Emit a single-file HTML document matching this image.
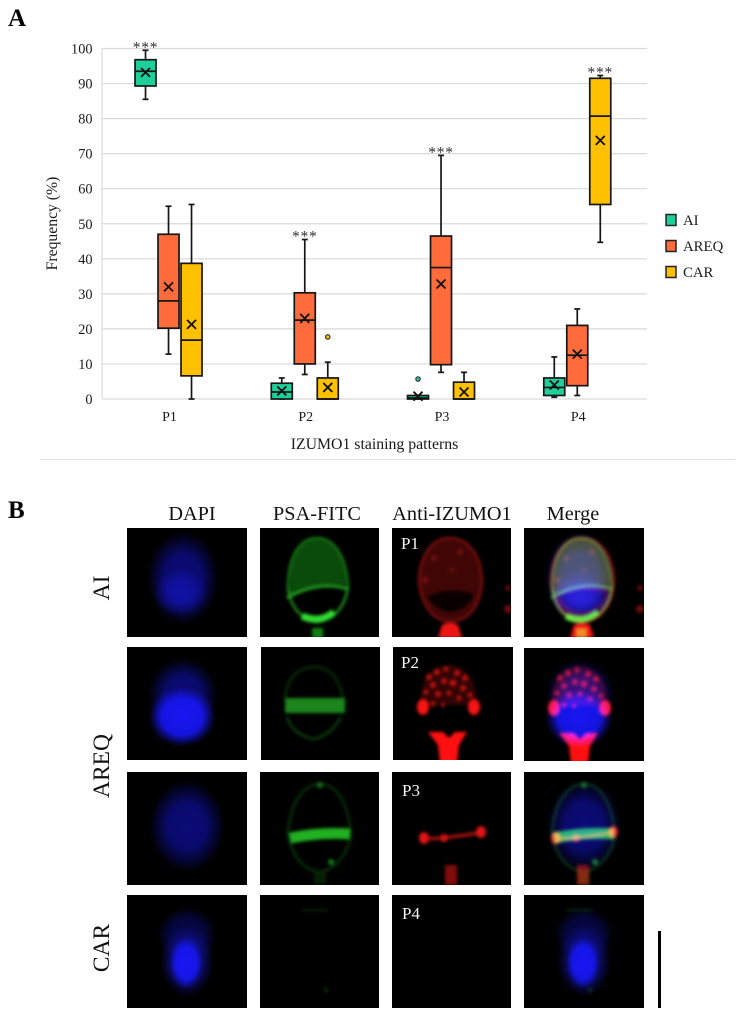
<!DOCTYPE html>
<html lang="en">
<head>
<meta charset="utf-8">
<title>IZUMO1 staining patterns</title>
<style>
html,body{margin:0;padding:0;background:#fff;}
body{width:744px;height:1020px;overflow:hidden;}
svg#fig{display:block;font-family:"Liberation Serif",serif;}
.scr{mix-blend-mode:screen;}
</style>
</head>
<body>
<svg id="fig" xmlns="http://www.w3.org/2000/svg" width="744" height="1020" viewBox="0 0 744 1020">
<defs>
<filter id="soft" filterUnits="userSpaceOnUse" x="-30" y="-30" width="180" height="180" color-interpolation-filters="sRGB"><feGaussianBlur stdDeviation="1.5"/></filter>
<filter id="softer" filterUnits="userSpaceOnUse" x="-30" y="-30" width="180" height="180" color-interpolation-filters="sRGB"><feGaussianBlur stdDeviation="3"/></filter>
<radialGradient id="gA"><stop offset="0" stop-color="#0b0b78"/><stop offset=".5" stop-color="#0b0b78" stop-opacity=".9"/><stop offset=".8" stop-color="#0b0b78" stop-opacity=".35"/><stop offset="1" stop-color="#0b0b78" stop-opacity="0"/></radialGradient>
<radialGradient id="gB"><stop offset="0" stop-color="#1212a8"/><stop offset=".45" stop-color="#1212a8" stop-opacity=".75"/><stop offset="1" stop-color="#1212a8" stop-opacity="0"/></radialGradient>
<radialGradient id="gC"><stop offset="0" stop-color="#1616f0"/><stop offset=".6" stop-color="#1616f0" stop-opacity=".92"/><stop offset=".85" stop-color="#1616f0" stop-opacity=".3"/><stop offset="1" stop-color="#1616f0" stop-opacity="0"/></radialGradient>
<radialGradient id="gD"><stop offset="0" stop-color="#07074a"/><stop offset=".6" stop-color="#07074a" stop-opacity=".8"/><stop offset="1" stop-color="#07074a" stop-opacity="0"/></radialGradient>

<!-- Row 1 -->
<g id="r1-blue">
  <ellipse cx="56" cy="50" rx="36" ry="47" fill="url(#gA)"/>
  <ellipse cx="54" cy="64" rx="27" ry="24" fill="url(#gB)"/>
</g>
<g id="r1-green" filter="url(#soft)">
  <path d="M30 55 C30 25 42 10 57 10 C72 10 86 25 86 55 L86 58 Q58 52 30 68Z" fill="#0a4a0a"/>
  <path d="M28 60 C28 25 42 10 57 10 C72 10 86 25 88 58" fill="none" stroke="#167416" stroke-width="2.5"/>
  <path d="M28 60 C30 76 38 90 57 94 C78 90 86 75 88 58" fill="none" stroke="#1f961f" stroke-width="2.5"/>
  <path d="M27 70 Q58 52 88 61" fill="none" stroke="#22a022" stroke-width="3"/>
  <path d="M42 88 Q60 96 74 84" fill="none" stroke="#30dc30" stroke-width="7"/>
  <rect x="52" y="100" width="11" height="10" fill="#128012"/>
</g>
<g id="r1-red" filter="url(#soft)">
  <path d="M27 55 C27 25 42 10 58 10 C74 10 90 25 90 55 C88 75 80 92 58 94 C38 92 30 75 27 55Z" fill="#400606" stroke="#7c0e0e" stroke-width="2.5"/>
  <path d="M36 68 Q58 58 82 66 Q76 82 58 84 Q42 82 36 68Z" fill="#0a0000"/>
  <circle cx="42" cy="30" r="3" fill="#701010"/><circle cx="68" cy="24" r="3" fill="#701010"/><circle cx="60" cy="42" r="3" fill="#5e0c0c"/><circle cx="33" cy="52" r="3" fill="#7c0e0e"/>
  <path d="M50 97 Q58 93 66 97 L70 110 L46 110Z" fill="#f01515"/>
  <circle cx="116" cy="60" r="3" fill="#5e0a0a"/>
  <circle cx="116" cy="81" r="4" fill="#700c0c"/>
</g>

<!-- Row 2 -->
<g id="r2-blue">
  <ellipse cx="56" cy="48" rx="35" ry="37" fill="url(#gA)"/>
  <ellipse cx="55" cy="70" rx="34" ry="30" fill="url(#gC)"/>
</g>
<g id="r2-green" filter="url(#soft)">
  <path d="M24 52 C26 28 40 20 53 20 C68 20 78 30 82 52" fill="none" stroke="#072607" stroke-width="3"/>
  <path d="M26 70 Q32 88 53 92 Q70 88 80 70" fill="none" stroke="#0b360b" stroke-width="3"/>
  <rect x="24" y="51" width="60" height="15" fill="#1c851c"/>
</g>
<g id="r2-red" filter="url(#soft)">
  <path d="M27 58 C27 30 40 18 55 18 C70 18 84 30 84 58 Z" fill="#320404"/>
  <g fill="#c01010">
    <circle cx="36" cy="30" r="3"/><circle cx="44" cy="25" r="3"/><circle cx="53" cy="22" r="2.5"/><circle cx="64" cy="26" r="3"/>
    <circle cx="72" cy="31" r="3"/><circle cx="40" cy="38" r="3"/><circle cx="51" cy="34" r="3"/><circle cx="60" cy="36" r="3.5"/>
    <circle cx="70" cy="41" r="3"/><circle cx="33" cy="45" r="2.5"/><circle cx="45" cy="47" r="3"/><circle cx="56" cy="46" r="2.5"/>
    <circle cx="66" cy="51" r="2.5"/><circle cx="77" cy="48" r="2.5"/><circle cx="40" cy="57" r="2.5"/><circle cx="50" cy="58" r="2"/>
  </g>
  <ellipse cx="30" cy="60" rx="6" ry="8" fill="#f81414"/>
  <ellipse cx="81" cy="60" rx="6" ry="8" fill="#f81414"/>
  <path d="M35 85 L50 85 L56 91 L62 85 L74 85 L66 98 L64 116 L47 116 L45 98Z" fill="#ff1010"/>
</g>

<!-- Row 3 -->
<g id="r3-blue">
  <ellipse cx="60" cy="54" rx="38" ry="46" fill="url(#gA)"/>
</g>
<g id="r3-green" filter="url(#soft)">
  <path d="M28 62 C30 30 44 12 60 12 C76 12 88 30 91 62 C88 85 72 98 60 100 C44 98 32 85 28 62Z" fill="none" stroke="#0a320a" stroke-width="2.5"/>
  <path d="M30 66 Q60 60 90 62" fill="none" stroke="#20b020" stroke-width="11"/>
  <circle cx="60" cy="13" r="3" fill="#176e17"/>
  <circle cx="71" cy="90" r="3" fill="#187818"/>
  <rect x="54" y="100" width="12" height="12" fill="#061f06"/>
</g>
<g id="r3-red" filter="url(#soft)">
  <path d="M30 67 Q60 66 92 60" fill="none" stroke="#a01010" stroke-width="3.5"/>
  <ellipse cx="32" cy="66" rx="5" ry="6" fill="#e01414"/>
  <ellipse cx="52" cy="66" rx="4" ry="4" fill="#d01212"/>
  <ellipse cx="89" cy="60" rx="5" ry="6" fill="#e01414"/>
  <rect x="53" y="93" width="12" height="20" fill="#800c0c"/>
</g>

<!-- Row 4 -->
<g id="r4-blue">
  <ellipse cx="60" cy="40" rx="30" ry="28" fill="url(#gD)"/>
  <ellipse cx="60" cy="66" rx="27" ry="36" fill="url(#gB)"/>
  <ellipse cx="59" cy="68" rx="17" ry="26" fill="url(#gC)"/>
</g>
<g id="r4-green" filter="url(#soft)">
  <path d="M42 15 H68" stroke="#092609" stroke-width="2"/>
  <circle cx="66" cy="95" r="2.5" fill="#0a280a"/>
</g>
</defs>

<rect width="744" height="1020" fill="#fff"/>

<text x="8" y="26" font-size="25" font-weight="bold" fill="#000">A</text>
<g id="chart"></g>

<rect x="40" y="459" width="695" height="1" fill="#e0e0e0"/>

<text x="8" y="518" font-size="25" font-weight="bold" fill="#000">B</text>

<g font-size="20.3" fill="#111" text-anchor="middle">
  <text x="192" y="520">DAPI</text>
  <text x="317" y="520">PSA-FITC</text>
  <text x="452" y="520">Anti-IZUMO1</text>
  <text x="573" y="520">Merge</text>
</g>
<g font-size="23.5" fill="#111" text-anchor="middle">
  <text transform="translate(109,588) rotate(-90)">AI</text>
  <text transform="translate(109,766) rotate(-90)">AREQ</text>
  <text transform="translate(109,948) rotate(-90)">CAR</text>
</g>

<!-- Row 1 panels -->
<svg x="127" y="528" width="120" height="109"><rect width="120" height="109"/><use href="#r1-blue"/></svg>
<svg x="260" y="528" width="119" height="109"><rect width="120" height="109"/><use href="#r1-green"/></svg>
<svg x="392" y="528" width="119" height="109"><rect width="120" height="109"/><use href="#r1-red"/></svg>
<svg x="524" y="528" width="120" height="109"><rect width="120" height="109"/><use class="scr" href="#r1-red"/><use class="scr" href="#r1-green"/><use class="scr" href="#r1-blue"/><ellipse class="scr" cx="58" cy="70" rx="32" ry="20" fill="url(#gB)"/></svg>

<!-- Row 2 panels -->
<svg x="127" y="647" width="120" height="113"><rect width="120" height="113"/><use href="#r2-blue"/></svg>
<svg x="261" y="647" width="119" height="113"><rect width="120" height="113"/><use href="#r2-green"/></svg>
<svg x="393" y="647" width="120" height="113"><rect width="120" height="113"/><use href="#r2-red"/></svg>
<svg x="524" y="648" width="120" height="113"><rect width="120" height="113"/><use class="scr" href="#r2-red"/><use class="scr" href="#r2-blue"/></svg>

<!-- Row 3 panels -->
<svg x="127" y="772" width="120" height="113"><rect width="120" height="113"/><use href="#r3-blue"/></svg>
<svg x="260" y="772" width="119" height="113"><rect width="120" height="113"/><use href="#r3-green"/></svg>
<svg x="392" y="772" width="119" height="113"><rect width="120" height="113"/><use href="#r3-red"/></svg>
<svg x="524" y="772" width="120" height="113"><rect width="120" height="113"/><use class="scr" href="#r3-red"/><use class="scr" href="#r3-green"/><use class="scr" href="#r3-blue"/></svg>

<!-- Row 4 panels -->
<svg x="127" y="895" width="120" height="113"><rect width="120" height="113"/><use href="#r4-blue"/></svg>
<svg x="260" y="895" width="119" height="113"><rect width="120" height="113"/><use href="#r4-green"/></svg>
<svg x="392" y="895" width="119" height="113"><rect width="120" height="113"/></svg>
<svg x="524" y="895" width="120" height="113"><rect width="120" height="113"/><use class="scr" href="#r4-green"/><use class="scr" href="#r4-blue"/></svg>

<g font-size="17" fill="#f4f4f4">
  <text x="401" y="549">P1</text>
  <text x="401" y="668">P2</text>
  <text x="402" y="796">P3</text>
  <text x="402" y="919">P4</text>
</g>

<rect x="658" y="931" width="3" height="77" fill="#000"/>

<script>
const categories = ['P1', 'P2', 'P3', 'P4'];
const seriesNames = ['AI', 'AREQ', 'CAR'];
const yTicks = [0, 10, 20, 30, 40, 50, 60, 70, 80, 90, 100];
const whiskerLow = [[85.5, 0, 0, 0.5], [12.8, 7, 7.6, 1], [0, 0, 0, 44.7]];
const q1Values = [[89.3, 0, 0, 1], [20.2, 10, 9.8, 3.8], [6.6, 0, 0, 55.5]];
const medianValues = [[93.5, 2, 0.3, 3.3], [28, 22.5, 37.5, 12.5], [16.8, 0, 0, 80.7]];
const q3Values = [[96.8, 4.5, 1, 6], [47, 30.3, 46.5, 21], [38.7, 6, 4.8, 91.5]];
const whiskerHigh = [[99.5, 6, 1, 12], [55, 45.5, 69.5, 25.7], [55.5, 10.5, 7.6, 92.3]];
const meanValues = [[93.2, 2.3, 0.8, 4], [32, 23, 32.8, 12.8], [21.3, 3.3, 2, 73.8]];
const outlierValues = [[null, null, 5.7, null], [null, null, null, null], [null, 17.7, null, null]];
const significantSeries = [0, 1, 1, 2];
const seriesColors = ['#1fcf9a', '#ff6b3a', '#ffc000'];

const chart = document.getElementById('chart');
const NS = 'http://www.w3.org/2000/svg';
const plotLeft = 102, plotRight = 647, plotTop = 48.5, plotBottom = 399;
const yScale = v => plotBottom - (v / 100) * (plotBottom - plotTop);
const bandWidth = (plotRight - plotLeft) / categories.length;
const groupCenter = i => plotLeft + bandWidth * (i + 0.5) - 1.6;
const boxStep = 23, boxWidth = 21;
const xScale = (i, s) => groupCenter(i) + (s - 1) * boxStep;

function shape(tag, attrs, parent) {
  const el = document.createElementNS(NS, tag);
  for (const k in attrs) el.setAttribute(k, attrs[k]);
  (parent || chart).appendChild(el);
  return el;
}
function label(x, y, str, size, anchor, parent) {
  const t = shape('text', { x: x, y: y, 'font-size': size, 'text-anchor': anchor, fill: '#1a1a1a' }, parent);
  t.textContent = str;
  return t;
}

const yAxisLine = shape('line', { x1: plotLeft, x2: plotLeft, y1: plotTop, y2: plotBottom, stroke: '#d9d9d9', 'stroke-width': 1.1 });



yTicks.forEach(v => {
  const g = shape('line', { x1: plotLeft, x2: plotRight, y1: yScale(v), y2: yScale(v), stroke: '#d9d9d9', 'stroke-width': 1.2 });
  
  
  const t = label(92.5, yScale(v) + 5, String(v), 14.3, 'end');
  
  
});

categories.forEach((c, i) => {
  const t = label(groupCenter(i) + 1, 421, c, 14, 'middle');
  
  
});

const yTitle = label(0, 0, 'Frequency (%)', 15.7, 'middle');
yTitle.setAttribute('transform', 'translate(57,223.5) rotate(-90)');



const xTitle = label(374.5, 449, 'IZUMO1 staining patterns', 15.8, 'middle');



seriesNames.forEach((name, s) => {
  categories.forEach((c, i) => {
    const x = xScale(i, s);
    const group = shape('g', {});
    
    
    const stroke = { stroke: '#161616', 'stroke-width': 1.7, fill: 'none' };
    const lo = yScale(whiskerLow[s][i]), hi = yScale(whiskerHigh[s][i]);
    const q1 = yScale(q1Values[s][i]), q3 = yScale(q3Values[s][i]);
    shape('line', Object.assign({ x1: x, x2: x, y1: hi, y2: q3 }, stroke), group);
    shape('line', Object.assign({ x1: x, x2: x, y1: q1, y2: lo }, stroke), group);
    shape('line', Object.assign({ x1: x - 3, x2: x + 3, y1: hi, y2: hi }, stroke), group);
    shape('line', Object.assign({ x1: x - 3, x2: x + 3, y1: lo, y2: lo }, stroke), group);
    shape('rect', { x: x - boxWidth / 2, y: q3, width: boxWidth, height: Math.max(q1 - q3, 0), fill: seriesColors[s], stroke: '#161616', 'stroke-width': 1.7 }, group);
    const m = yScale(medianValues[s][i]);
    shape('line', Object.assign({ x1: x - boxWidth / 2, x2: x + boxWidth / 2, y1: m, y2: m }, stroke), group);
    const my = yScale(meanValues[s][i]);
    const cross = { stroke: '#111', 'stroke-width': 1.8 };
    shape('line', Object.assign({ x1: x - 4.5, x2: x + 4.5, y1: my - 4.5, y2: my + 4.5 }, cross), group);
    shape('line', Object.assign({ x1: x - 4.5, x2: x + 4.5, y1: my + 4.5, y2: my - 4.5 }, cross), group);
    if (outlierValues[s][i] !== null) {
      shape('circle', { cx: x, cy: yScale(outlierValues[s][i]), r: 2.2, fill: seriesColors[s], stroke: '#333', 'stroke-width': 1.2 }, group);
    }
  });
});

significantSeries.forEach((s, i) => {
  const t = label(xScale(i, s), yScale(whiskerHigh[s][i]) + 2, '***', 15.5, 'middle');
  t.setAttribute('fill', '#333');
  t.setAttribute('letter-spacing', '0.8');
  
  
});

seriesNames.forEach((name, s) => {
  const rowY = 220 + s * 26;
  const g = shape('g', {});
  
  
  shape('rect', { x: 666, y: rowY - 5.5, width: 10, height: 11, fill: seriesColors[s], stroke: '#222', 'stroke-width': 1.5 }, g);
  label(683, rowY + 5, name, 14.8, 'start', g);
});
</script>
</svg>
</body>
</html>
